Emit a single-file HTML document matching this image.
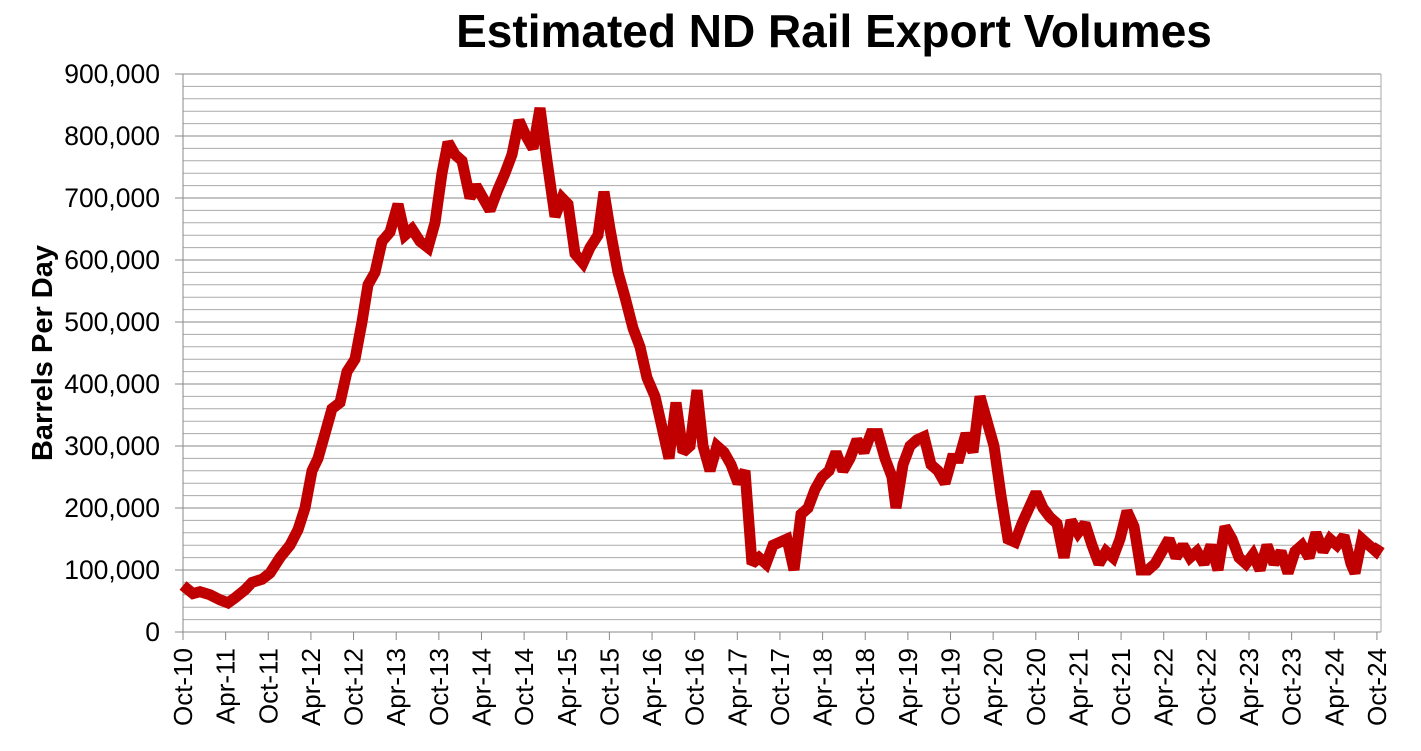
<!DOCTYPE html>
<html><head><meta charset="utf-8"><style>
body{margin:0;background:#fff;width:1421px;height:746px;overflow:hidden}
svg{font-family:"Liberation Sans",Arial,sans-serif}
</style></head><body>
<svg id="s" width="1421" height="746" xmlns="http://www.w3.org/2000/svg">
<text x="834" y="47" font-size="46" font-weight="bold" text-anchor="middle">Estimated ND Rail Export Volumes</text>
<text transform="translate(52,353) rotate(-90)" font-size="29" font-weight="bold" text-anchor="middle">Barrels Per Day</text>
<g id="g"></g>
</svg>
<script>
const g=document.getElementById('g');let h='';
const Y=v=>632-v*0.62;
for(let v=0;v<=900;v+=20){const y=Y(v);const maj=v%100==0;
h+=`<line x1="183" x2="1381" y1="${y}" y2="${y}" stroke="${maj?'#888':'#aaa'}" stroke-width="1"/>`;
if(maj){h+=`<line x1="175" x2="183" y1="${y}" y2="${y}" stroke="#888"/>`;
h+=`<text x="160" y="${y+9}" font-size="26.5" text-anchor="end">${v==0?'0':v+',000'}</text>`;}}
h+=`<line x1="183" x2="183" y1="74" y2="640" stroke="#888"/>`;
h+=`<line x1="1381" x2="1381" y1="74" y2="632" stroke="#aaa"/>`;
const labs=[];for(let y=10;y<=24;y++){labs.push('Oct-'+y);if(y<24)labs.push('Apr-'+(y+1));}
labs.forEach((l,i)=>{const x=183+i*42.64;
h+=`<line x1="${x}" x2="${x}" y1="632" y2="640" stroke="#888"/>`;
h+=`<text transform="translate(${x+9},648) rotate(-90)" font-size="26" text-anchor="end">${l}</text>`;});
const d=[183,75,193,62,200,65,210,60,220,52,228,47,235,55,245,68,252,80,262,85,270,95,280,120,290,140,298,165,305,200,312,260,318,280,325,320,332,360,340,370,347,420,355,440,362,500,368,560,375,580,382,630,390,645,398,690,405,640,412,650,420,630,428,620,435,660,442,740,448,790,455,770,462,760,470,700,476,720,483,700,490,680,497,710,505,740,512,770,519,825,526,800,533,780,540,845,547,760,555,670,562,700,568,690,575,610,583,595,590,620,598,640,604,710,610,650,618,580,625,540,633,490,640,460,647,410,655,380,662,330,669,280,676,370,683,290,690,300,697,390,703,300,710,260,717,300,724,290,731,270,738,240,745,260,752,110,759,120,766,110,773,140,780,145,787,150,794,100,801,190,808,200,815,230,822,250,829,260,836,290,843,260,850,280,857,310,864,290,871,320,878,320,885,280,892,250,896,200,903,270,910,300,917,310,924,315,931,270,938,260,945,240,952,280,959,280,966,320,973,290,980,380,987,340,994,300,1001,220,1008,150,1015,145,1022,175,1029,200,1036,225,1043,200,1050,185,1057,175,1064,120,1071,180,1078,160,1085,175,1092,140,1099,110,1106,130,1113,120,1120,150,1127,195,1134,170,1141,100,1148,100,1155,110,1162,130,1169,150,1176,120,1183,140,1190,120,1197,130,1204,110,1211,140,1218,100,1225,170,1232,150,1239,120,1246,110,1253,125,1260,100,1267,140,1274,110,1281,130,1288,95,1295,130,1302,140,1309,120,1316,160,1323,130,1330,150,1337,140,1344,155,1351,110,1355,95,1362,150,1369,140,1376,130,1380,140];
let p='';for(let i=0;i<d.length;i+=2)p+=d[i]+','+Y(d[i+1]).toFixed(1)+' ';
h+=`<polyline points="${p}" fill="none" stroke="#c00000" stroke-width="11" stroke-linejoin="miter" stroke-miterlimit="2"/>`;
g.innerHTML=h;
</script>
</body></html>
